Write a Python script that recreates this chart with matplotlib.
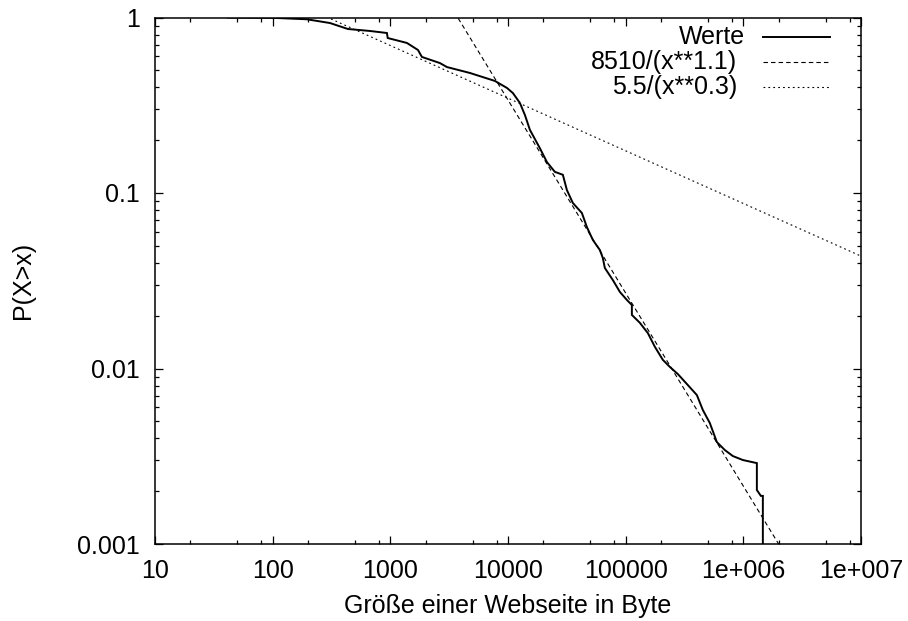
import numpy as np
import matplotlib
matplotlib.use("Agg")
import matplotlib.pyplot as plt
from matplotlib.ticker import LogLocator, FixedLocator, FixedFormatter, NullFormatter

plt.rcParams['font.family'] = ['Liberation Sans', 'DejaVu Sans']

# Empirical CCDF "Werte" (page size in bytes, P(X>x))
werte_x = [41.7, 98.6, 195, 307, 436, 671, 935, 950, 1384, 1717, 1855, 2638, 3027,
           4746, 7740, 9790, 11010, 12620, 13930, 15350, 18660, 21420, 25010, 29250,
           31650, 35580, 42460, 46800, 52630, 60400, 63970, 66530, 77830, 89320,
           102300, 112900, 112900, 132100, 154500, 177000, 207000, 237700, 277500,
           337400, 402700, 452900, 519000, 595500, 696600, 814700, 990000, 1303000,
           1303000, 1409000, 1465000, 1465000]
werte_y = [1.0, 0.996, 0.977, 0.930, 0.860, 0.838, 0.816, 0.764, 0.716, 0.653, 0.596,
           0.550, 0.522, 0.483, 0.435, 0.397, 0.371, 0.326, 0.278, 0.229, 0.180,
           0.150, 0.132, 0.127, 0.104, 0.0877, 0.0769, 0.0640, 0.0540, 0.0473,
           0.0426, 0.0374, 0.0319, 0.0273, 0.0246, 0.0230, 0.0202, 0.0182, 0.0159,
           0.0133, 0.0112, 0.0102, 0.0093, 0.00805, 0.00706, 0.00580, 0.00489,
           0.00381, 0.00343, 0.00317, 0.00301, 0.00289, 0.00203, 0.00188, 0.00188,
           0.0008]

# Fitted power laws: a / x**b
fit1_a, fit1_b = 8510, 1.1
fit2_a, fit2_b = 5.5, 0.3

labels = ["Werte", "8510/(x**1.1)", "5.5/(x**0.3)"]
xtick_vals = [10, 100, 1000, 10000, 100000, 1e6, 1e7]
xtick_labels = ["10", "100", "1000", "10000", "100000", "1e+006", "1e+007"]
ytick_vals = [0.001, 0.01, 0.1, 1]
ytick_labels = ["0.001", "0.01", "0.1", "1"]

FS = 18
fig = plt.figure(figsize=(9.08, 6.21), dpi=100)
ax = fig.add_axes([155/908, 1-544/621, (861-155)/908, (544-17.5)/621])

xs = np.logspace(1, 7, 400)
ax.plot(werte_x, werte_y, color='black', lw=1.4, solid_joinstyle='miter')
ax.plot(xs, fit1_a / xs**fit1_b, color='black', lw=0.8, dashes=(4.0, 2.8))
ax.plot(xs, fit2_a / xs**fit2_b, color='black', lw=0.8, dashes=(1.6, 2.8))

ax.set_xscale('log')
ax.set_yscale('log')
ax.set_xlim(10, 1e7)
ax.set_ylim(0.001, 1)

ax.xaxis.set_major_locator(FixedLocator(xtick_vals))
ax.xaxis.set_major_formatter(FixedFormatter(xtick_labels))
ax.xaxis.set_minor_locator(LogLocator(base=10, subs=[2, 5, 8], numticks=50))
ax.xaxis.set_minor_formatter(NullFormatter())
ax.yaxis.set_major_locator(FixedLocator(ytick_vals))
ax.yaxis.set_major_formatter(FixedFormatter(ytick_labels))
ax.yaxis.set_minor_locator(LogLocator(base=10, subs=np.arange(2, 10), numticks=50))
ax.yaxis.set_minor_formatter(NullFormatter())

ax.tick_params(which='both', direction='in', top=True, right=True, width=0.9,
               labelsize=FS)
ax.tick_params(which='major', length=5.5)
ax.tick_params(which='minor', length=3)
ax.tick_params(axis='x', which='major', pad=11)
ax.tick_params(axis='y', which='major', pad=11)
for s in ax.spines.values():
    s.set_linewidth(1.1)

ax.set_xlabel("Größe einer Webseite in Byte", fontsize=FS, labelpad=8)
ax.set_ylabel("P(X>x)", fontsize=FS, labelpad=30)

# gnuplot-style legend: right-justified text, sample to the right
styles = [dict(lw=1.4), dict(lw=0.8, dashes=(4.0, 2.8)), dict(lw=0.8, dashes=(1.6, 2.8))]
rows_y = [36.7, 61.7, 87.0]
text_right = [745, 737, 737]
W, H = 908, 621
for lab, st, ry, tr in zip(labels, styles, rows_y, text_right):
    fig.text(tr/W, 1-ry/H, lab, ha='right', va='center', fontsize=FS)
    fig.add_artist(plt.Line2D([763/W, 830/W], [1-ry/H, 1-ry/H], color='black', **st))

fig.savefig("out.png", dpi=100)
